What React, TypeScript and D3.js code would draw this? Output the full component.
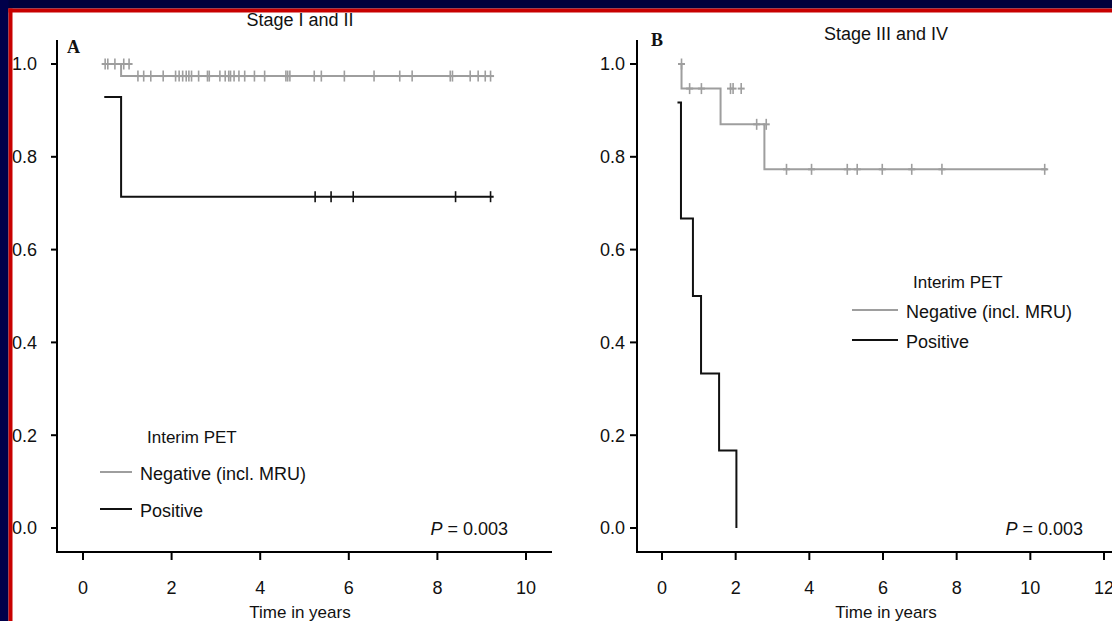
import React from "react";
import * as d3 from "d3";

// ---------- data ----------
const yTickValues = [0, 0.2, 0.4, 0.6, 0.8, 1.0];
const yTickLabels = ["0.0", "0.2", "0.4", "0.6", "0.8", "1.0"];
const xTicksA = [0, 2, 4, 6, 8, 10];
const xTicksB = [0, 2, 4, 6, 8, 10, 12];

const titleA = "Stage I and II";
const titleB = "Stage III and IV";
const legendTitle = "Interim PET";
const seriesNames = ["Negative (incl. MRU)", "Positive"];
const pText = "= 0.003";

// Panel A: Kaplan-Meier steps [time, survival], end time
const negAStepsT = [0.48, 0.86];
const negAStepsS = [1.0, 0.974];
const negAEnd = 9.22;
const negACensorT = [0.5, 0.56, 0.72, 0.92, 1.04,
  1.24, 1.37, 1.53, 1.81, 2.09, 2.17, 2.25, 2.33, 2.39, 2.45, 2.61, 2.81, 2.85,
  3.09, 3.21, 3.29, 3.33, 3.41, 3.52, 3.65, 3.87, 4.10, 4.58, 4.62, 4.67, 5.22,
  5.38, 5.90, 6.57, 7.15, 7.43, 8.29, 8.34, 8.74, 8.92, 9.08, 9.2];
const negACensorS = [1, 1, 1, 1, 1,
  0.974, 0.974, 0.974, 0.974, 0.974, 0.974, 0.974, 0.974, 0.974, 0.974, 0.974, 0.974, 0.974,
  0.974, 0.974, 0.974, 0.974, 0.974, 0.974, 0.974, 0.974, 0.974, 0.974, 0.974, 0.974, 0.974,
  0.974, 0.974, 0.974, 0.974, 0.974, 0.974, 0.974, 0.974, 0.974, 0.974, 0.974];

const posAStepsT = [0.48, 0.86];
const posAStepsS = [0.929, 0.714];
const posAEnd = 9.27;
const posACensorT = [5.24, 5.6, 6.1, 8.41, 9.2];
const posACensorS = [0.714, 0.714, 0.714, 0.714, 0.714];

// Panel B
const negBStepsT = [0.53, 0.53, 1.59, 2.78];
const negBStepsS = [1.0, 0.947, 0.870, 0.773];
const negBEnd = 10.45;
const negBCensorT = [0.53, 0.75, 1.07, 1.86, 1.93, 2.15, 2.57, 2.83, 3.38, 4.06, 5.03, 5.30, 5.98, 6.78, 7.60, 10.39];
const negBCensorS = [1.0, 0.947, 0.947, 0.947, 0.947, 0.947, 0.870, 0.870, 0.773, 0.773, 0.773, 0.773, 0.773, 0.773, 0.773, 0.773];

const posBStepsT = [0.42, 0.515, 0.84, 1.06, 1.55, 2.02];
const posBStepsS = [0.917, 0.667, 0.5, 0.333, 0.167, 0];
const posBEnd = 2.02;
const posBCensorT: number[] = [];
const posBCensorS: number[] = [];

// ---------- styling ----------
const W = 1112;
const H = 621;
const FONT = "'Liberation Sans', Arial, Helvetica, sans-serif";
const GRAY = "#9e9e9e";
const BLACK = "#111";
const NAVY = "#00003c";
const RED = "#c80000";

const yScale = d3.scaleLinear().domain([0, 1]).range([528, 64]);

type Curve = { t: number[]; s: number[]; end: number; ct: number[]; cs: number[]; color: string; tickH: number; armW: number };

function KMCurve({ c, x }: { c: Curve; x: d3.ScaleLinear<number, number> }) {
  const pts: [number, number][] = c.t.map((t, i) => [t, c.s[i]]);
  pts.push([c.end, c.s[c.s.length - 1]]);
  const line = d3
    .line<[number, number]>()
    .x((d) => x(d[0]))
    .y((d) => yScale(d[1]))
    .curve(d3.curveStepAfter);
  return (
    <g>
      <path d={line(pts) || ""} fill="none" stroke={c.color} strokeWidth={2} />
      {c.ct.map((t, i) => {
        const cx = x(t);
        const cy = yScale(c.cs[i]);
        return (
          <g key={i} stroke={c.color} strokeWidth={1.6}>
            <line x1={cx} x2={cx} y1={cy - c.tickH} y2={cy + c.tickH} />
            {c.armW > 0 && <line x1={cx - c.armW} x2={cx + c.armW} y1={cy} y2={cy} strokeWidth={2} />}
          </g>
        );
      })}
    </g>
  );
}

function Panel(props: {
  axisX: number;
  axisRight: number;
  x: d3.ScaleLinear<number, number>;
  xticks: number[];
  labelEnd: number;
  tickLeft: number;
  title: string;
  titleX: number;
  titleY: number;
  letter: string;
  letterX: number;
  letterY: number;
  xLabelX: number;
  pEndX: number;
  legendX: number;
  legendY: number;
  legendLineLen: number;
  legendRowGap: number;
  legendTitleDX: number;
  legendTitleGap: number;
  curves: Curve[];
}) {
  const p = props;
  const axisBottom = 552;
  return (
    <g fontFamily={FONT} fill="#111">
      {/* y axis */}
      <line x1={p.axisX} x2={p.axisX} y1={40} y2={axisBottom + 1} stroke="#000" strokeWidth={2} />
      {yTickValues.map((v, i) => (
        <g key={i}>
          <line x1={p.tickLeft} x2={p.axisX} y1={yScale(v)} y2={yScale(v)} stroke="#000" strokeWidth={2} />
          <text x={p.labelEnd} y={yScale(v)} dy="0.36em" textAnchor="end" fontSize={18}>
            {yTickLabels[i]}
          </text>
        </g>
      ))}
      {/* x axis */}
      <line x1={p.axisX - 1} x2={p.axisRight} y1={axisBottom} y2={axisBottom} stroke="#000" strokeWidth={2} />
      {p.xticks.map((v) => (
        <g key={v}>
          <line x1={p.x(v)} x2={p.x(v)} y1={axisBottom} y2={axisBottom + 8} stroke="#000" strokeWidth={2} />
          <text x={p.x(v)} y={588} dy="0.36em" textAnchor="middle" fontSize={18}>
            {v}
          </text>
        </g>
      ))}
      <text x={p.xLabelX} y={612} dy="0.36em" textAnchor="middle" fontSize={17}>
        Time in years
      </text>
      <text x={p.titleX} y={p.titleY} dy="0.36em" textAnchor="middle" fontSize={18}>
        {p.title}
      </text>
      <text x={p.letterX} y={p.letterY} fontFamily="'Liberation Serif', 'Times New Roman', serif" fontWeight="bold" fontSize={18}>
        {p.letter}
      </text>
      <text x={p.pEndX} y={529} dy="0.36em" textAnchor="end" fontSize={18}>
        <tspan fontStyle="italic">P</tspan> {pText}
      </text>
      {/* legend */}
      <text x={p.legendX + p.legendTitleDX} y={p.legendY} dy="0.36em" fontSize={17}>
        {legendTitle}
      </text>
      {seriesNames.map((n, i) => {
        const ly = p.legendY + p.legendTitleGap + i * p.legendRowGap;
        return (
          <g key={n}>
            <line x1={p.legendX} x2={p.legendX + p.legendLineLen} y1={ly - 2} y2={ly - 2} stroke={i === 0 ? GRAY : BLACK} strokeWidth={2} />
            <text x={p.legendX + p.legendLineLen + 8} y={ly} dy="0.36em" fontSize={18}>
              {n}
            </text>
          </g>
        );
      })}
      {p.curves.map((c, i) => (
        <KMCurve key={i} c={c} x={p.x} />
      ))}
    </g>
  );
}

export default function App() {
  const xA = d3.scaleLinear().domain([0, 10]).range([83, 526]);
  const xB = d3.scaleLinear().domain([0, 12]).range([662, 1104]);

  const curvesA: Curve[] = [
    { t: negAStepsT, s: negAStepsS, end: negAEnd, ct: negACensorT, cs: negACensorS, color: GRAY, tickH: 5.5, armW: 3.5 },
    { t: posAStepsT, s: posAStepsS, end: posAEnd, ct: posACensorT, cs: posACensorS, color: BLACK, tickH: 5.5, armW: 0 },
  ];
  const curvesB: Curve[] = [
    { t: negBStepsT, s: negBStepsS, end: negBEnd, ct: negBCensorT, cs: negBCensorS, color: GRAY, tickH: 5.5, armW: 3.5 },
    { t: posBStepsT, s: posBStepsS, end: posBEnd, ct: posBCensorT, cs: posBCensorS, color: BLACK, tickH: 5.5, armW: 0 },
  ];

  return (
    <svg width={W} height={H} style={{ position: "absolute", left: 0, top: 0, background: "#fff" }}>
      <rect x={0} y={0} width={W} height={H} fill="#fff" />
      <Panel
        axisX={57}
        axisRight={552}
        x={xA}
        xticks={xTicksA}
        labelEnd={37}
        tickLeft={51}
        title={titleA}
        titleX={300}
        titleY={20}
        letter="A"
        letterX={67}
        letterY={53}
        xLabelX={300}
        pEndX={508}
        legendX={100}
        legendY={437}
        legendLineLen={32}
        legendRowGap={37}
        legendTitleDX={47}
        legendTitleGap={37}
        curves={curvesA}
      />
      <Panel
        axisX={637}
        axisRight={W + 5}
        x={xB}
        xticks={xTicksB}
        labelEnd={625}
        tickLeft={630}
        title={titleB}
        titleX={886}
        titleY={34}
        letter="B"
        letterX={651}
        letterY={46}
        xLabelX={886}
        pEndX={1083}
        legendX={852}
        legendY={282}
        legendLineLen={46}
        legendRowGap={30}
        legendTitleDX={61}
        legendTitleGap={30}
        curves={curvesB}
      />
      {/* slide border */}
      <rect x={0} y={0} width={W} height={8.5} fill={NAVY} />
      <rect x={0} y={0} width={8.5} height={H} fill="#00004a" />
      <rect x={8.5} y={8.5} width={W - 8.5} height={4} fill={RED} />
      <rect x={8.5} y={8.5} width={4} height={H - 8.5} fill={RED} />
    </svg>
  );
}
